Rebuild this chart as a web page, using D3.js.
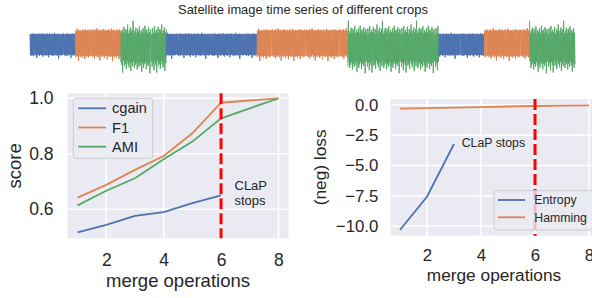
<!DOCTYPE html>
<html>
<head>
<meta charset="utf-8">
<script src="https://cdn.jsdelivr.net/npm/d3@7"></script>
<style>
body { margin: 0; background: #fff; }
text { font-family: "Liberation Sans", Arial, sans-serif; fill: #262626; }
</style>
</head>
<body>
<div id="chart-area"></div>
<script>
// ---- data ----
// crop segments of the time series (class index, number of samples)
var segClass = [0, 1, 2, 0, 1, 2, 0, 1, 2];
var segLength = [100, 100, 100, 200, 200, 200, 100, 100, 100];
var classMean = [0.05, 0.2, -0.2];
var classAmp = [1.05, 1.25, 1.5];

// noise shape per crop class
var noiseA = [
  1.00,-1.02, 0.97,-1.05, 1.02,-0.98, 1.04,-1.10, 0.99,-1.00,
  1.03,-0.97, 0.96,-1.04, 1.01,-1.28, 1.00,-0.99, 1.05,-1.02,
  0.98,-1.06, 1.02,-0.97, 0.97,-1.01, 1.08,-1.03, 1.00,-1.15,
  0.99,-0.98, 1.03,-1.00, 0.96,-1.07, 1.01,-0.99, 1.04,-1.02,
  0.98,-1.22, 1.00,-1.01, 1.06,-0.97, 0.97,-1.04, 1.02,-1.00,
  1.00,-1.09, 0.99,-0.98, 1.12,-1.03, 0.98,-1.00, 1.01,-1.05,
  0.97,-0.99, 1.03,-1.36, 1.00,-1.02, 0.99,-1.00, 1.02,-1.04,
  0.98,-1.01, 1.01,-0.97, 1.04];
var noiseB = [
  1.00,-1.05, 1.08,-0.98, 0.95,-1.12, 1.03,-1.00, 1.10,-1.25,
  0.97,-1.02, 1.05,-1.08, 1.18,-0.96, 0.99,-1.15, 1.02,-1.04,
  1.06,-1.40, 0.96,-1.01, 1.04,-1.10, 1.00,-0.97, 1.12,-1.06,
  0.98,-1.20, 1.03,-1.02, 1.07,-1.00, 0.94,-1.30, 1.01,-1.05,
  1.09,-0.99, 1.00,-1.12, 0.97,-1.03, 1.15,-1.08, 1.02,-1.45,
  0.99,-1.00, 1.05,-1.10, 1.00,-1.02, 0.96,-1.18, 1.08,-1.04,
  1.03,-1.06, 0.98,-1.28, 1.11,-1.01, 1.00,-1.09, 1.04,-1.00,
  0.97,-1.14, 1.06,-1.03, 1.01];
var noiseC = [
  1.10,-0.95, 0.85,-1.30, 1.25,-1.05, 0.90,-1.55, 1.40,-1.00,
  0.95,-1.20, 1.15,-1.70, 1.00,-0.90, 1.35,-1.25, 0.88,-1.10,
  1.20,-1.45, 1.05,-0.92, 1.50,-1.15, 0.92,-1.35, 1.10,-1.00,
  1.30,-1.60, 0.98,-1.08, 1.18,-1.28, 1.75,-0.95, 0.90,-1.40,
  1.08,-1.18, 1.28,-1.02, 0.95,-1.50, 1.22,-1.12, 1.02,-1.32,
  1.38,-0.98, 0.90,-1.22, 1.12,-1.65, 1.00,-1.06, 1.25,-1.38,
  0.94,-1.15, 1.42,-1.00, 1.06,-1.48, 1.16,-1.10, 0.92,-1.26,
  1.32,-1.04, 1.00,-1.75, 1.20];
var noise = [noiseA, noiseB, noiseC];

var merges = [1, 2, 3, 4, 5, 6, 7, 8];
var cgain = [0.517, 0.544, 0.576, 0.590, 0.622, 0.650];
var f1 = [0.642, 0.688, 0.742, 0.792, 0.874, 0.984, 0.992, 1.000];
var ami = [0.614, 0.667, 0.712, 0.780, 0.844, 0.928, 0.964, 1.000];
var entropy = [-10.33, -7.58, -3.22];
var hamming = [-0.30, -0.26, -0.21, -0.17, -0.12, -0.08, -0.05, -0.03];
var clapStop = 6;

var scoreTicks = [0.6, 0.8, 1.0];
var lossTicks = [0, -2.5, -5, -7.5, -10];
var mergeTicks = [2, 4, 6, 8];

// ---- styles ----
var blue = '#4c72b0', orange = '#dd8452', green = '#55a868';
var classColor = [blue, orange, green];

var svg = d3.select('#chart-area')
  .append('svg')
    .attr('width', 592)
    .attr('height', 298);

// ---- time series strip ----
svg.append('text')
  .attr('x', 303).attr('y', 13.5)
  .attr('text-anchor', 'middle')
  .attr('font-size', '12.9px')
  .text('Satellite image time series of different crops');

var total = d3.sum(segLength);
var xs = d3.scaleLinear().domain([0, total]).range([30, 575]);
var ys = d3.scaleLinear().domain([-3, 3]).range([75, 15]);

var start = 0;
segClass.forEach(function(c, k) {
  var pts = [];
  for (var i = start; i <= start + segLength[k] && i <= total; i++) {
    var p = noise[c][(i + k * 17) % noise[c].length];
    pts.push([i, classMean[c] + classAmp[c] * p]);
  }
  svg.append('path')
    .datum(pts)
    .attr('fill', 'none')
    .attr('stroke', classColor[c])
    .attr('stroke-width', 1)
    .attr('d', d3.line().x(function(d) { return xs(d[0]); }).y(function(d) { return ys(d[1]); }));
  start += segLength[k];
});

// ---- helper for a seaborn-like panel ----
function panel(opt) {
  var g = svg.append('g');
  var x = opt.x, y = opt.y;
  var x0 = x.range()[0], x1 = x.range()[1];
  var y0 = y.range()[1], y1 = y.range()[0];

  g.append('rect')
    .attr('x', x0).attr('y', y0)
    .attr('width', x1 - x0).attr('height', y1 - y0)
    .attr('fill', '#eaeaf2');

  g.selectAll('.vgrid').data(mergeTicks).enter()
    .append('line')
      .attr('x1', function(d) { return x(d); }).attr('x2', function(d) { return x(d); })
      .attr('y1', y0).attr('y2', y1)
      .attr('stroke', '#fff').attr('stroke-width', 1.6);
  g.selectAll('.hgrid').data(opt.yTicks).enter()
    .append('line')
      .attr('x1', x0).attr('x2', x1)
      .attr('y1', function(d) { return y(d); }).attr('y2', function(d) { return y(d); })
      .attr('stroke', '#fff').attr('stroke-width', 1.6);

  var yAxis = g.append('g')
    .attr('transform', 'translate(' + x0 + ',0)')
    .call(d3.axisLeft(y).tickValues(opt.yTicks).tickFormat(d3.format('.1f'))
      .tickSize(0).tickPadding(opt.yPad));
  var xAxis = g.append('g')
    .attr('transform', 'translate(0,' + y1 + ')')
    .call(d3.axisBottom(x).tickValues(mergeTicks).tickSize(0).tickPadding(opt.xPad));
  [xAxis, yAxis].forEach(function(a) {
    a.select('.domain').remove();
    a.selectAll('text')
      .attr('fill', '#262626')
      .attr('font-size', opt.tickSize + 'px')
      .attr('font-family', '"Liberation Sans", Arial, sans-serif');
  });

  g.append('text')
    .attr('x', (x0 + x1) / 2 + opt.xLabelShift).attr('y', opt.xLabelY)
    .attr('text-anchor', 'middle')
    .attr('font-size', opt.labelSize + 'px')
    .text('merge operations');
  g.append('text')
    .attr('transform', 'translate(' + opt.yLabelX + ',' + (y0 + y1) / 2 + ') rotate(-90)')
    .attr('text-anchor', 'middle')
    .attr('font-size', opt.labelSize + 'px')
    .text(opt.yLabel);

  opt.series.forEach(function(s) {
    g.append('path')
      .datum(s.values)
      .attr('fill', 'none')
      .attr('stroke', s.color)
      .attr('stroke-width', 1.8)
      .attr('d', d3.line()
        .x(function(d, i) { return x(merges[i]); })
        .y(function(d) { return y(d); }));
  });

  g.append('line')
    .attr('x1', x(clapStop)).attr('x2', x(clapStop))
    .attr('y1', y0).attr('y2', y1)
    .attr('stroke', '#ff0000')
    .attr('stroke-width', 3)
    .attr('stroke-dasharray', '11,4');

  return g;
}

// ---- left: scores ----
var xL = d3.scaleLinear().domain([0.65, 8.35]).range([67.5, 288.5]);
var yL = d3.scaleLinear().domain([0.4955, 1.018]).range([238.3, 93.3]);
var left = panel({
  x: xL, y: yL, yTicks: scoreTicks, yPad: 14, xPad: 15,
  tickSize: 17.5, labelSize: 18.5, xLabelY: 286.5, xLabelShift: 0,
  yLabelX: 21, yLabel: 'score',
  series: [
    { name: 'cgain', values: cgain, color: blue },
    { name: 'F1', values: f1, color: orange },
    { name: 'AMI', values: ami, color: green }
  ]
});
left.append('text')
  .attr('x', 234.5).attr('y', 190)
  .attr('font-size', '13px')
  .text('CLaP');
left.append('text')
  .attr('x', 234.5).attr('y', 205)
  .attr('font-size', '13px')
  .text('stops');

var legL = left.append('g').attr('transform', 'translate(73.3,98.3)');
legL.append('rect')
  .attr('width', 79.4).attr('height', 60).attr('rx', 3)
  .attr('fill', 'rgba(234,234,242,0.8)')
  .attr('stroke', '#cccccc').attr('stroke-width', 1);
[['cgain', blue], ['F1', orange], ['AMI', green]].forEach(function(e, i) {
  var yy = 10 + i * 19.2;
  legL.append('line')
    .attr('x1', 5).attr('x2', 32.7).attr('y1', yy).attr('y2', yy)
    .attr('stroke', e[1]).attr('stroke-width', 1.8);
  legL.append('text')
    .attr('x', 38.7).attr('y', yy + 5.2)
    .attr('font-size', '14.6px')
    .text(e[0]);
});

// ---- right: negative loss ----
var xR = d3.scaleLinear().domain([0.65, 8.35]).range([390.5, 598.5]);
var yR = d3.scaleLinear().domain([-10.8, 0.5]).range([235.7, 99]);
var right = panel({
  x: xR, y: yR, yTicks: lossTicks, yPad: 12.2, xPad: 13.6,
  tickSize: 16.8, labelSize: 17.3, xLabelY: 280.7, xLabelShift: -0.5,
  yLabelX: 325.5, yLabel: '(neg) loss',
  series: [
    { name: 'Entropy', values: entropy, color: blue },
    { name: 'Hamming', values: hamming, color: orange }
  ]
});
right.append('text')
  .attr('x', 461.7).attr('y', 147.3)
  .attr('font-size', '12.3px')
  .text('CLaP stops');

var legR = right.append('g').attr('transform', 'translate(494,190.7)');
legR.append('rect')
  .attr('width', 110).attr('height', 39.3).attr('rx', 3)
  .attr('fill', 'rgba(234,234,242,0.8)')
  .attr('stroke', '#cccccc').attr('stroke-width', 1);
[['Entropy', blue], ['Hamming', orange]].forEach(function(e, i) {
  var yy = 9.3 + i * 17.3;
  legR.append('line')
    .attr('x1', 4).attr('x2', 31).attr('y1', yy).attr('y2', yy)
    .attr('stroke', e[1]).attr('stroke-width', 1.8);
  legR.append('text')
    .attr('x', 40.3).attr('y', yy + 4.4)
    .attr('font-size', '12.3px')
    .text(e[0]);
});
</script>
</body>
</html>
